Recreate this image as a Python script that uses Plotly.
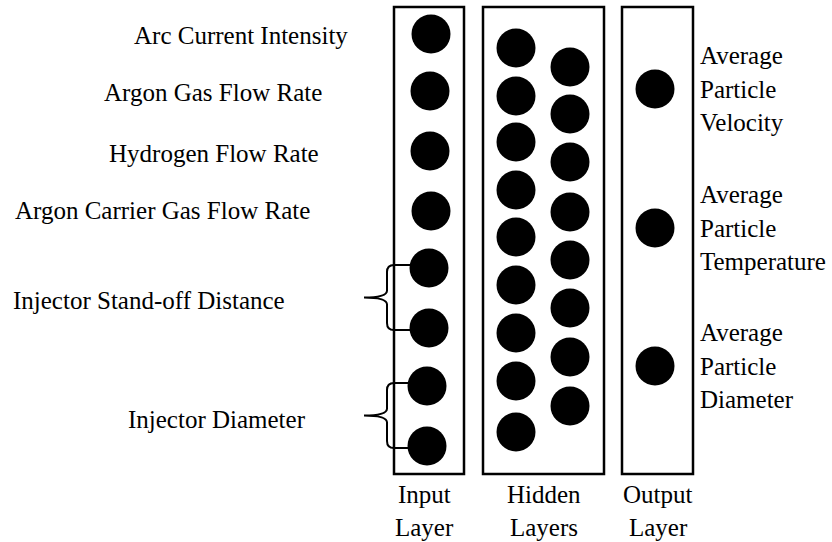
import plotly.graph_objects as go

# ---- data ----
input_labels = ["Arc Current Intensity", "Argon Gas Flow Rate", "Hydrogen Flow Rate",
                "Argon Carrier Gas Flow Rate"]
group_labels = ["Injector Stand-off Distance", "Injector Diameter"]
group_nodes = [(4, 5), (6, 7)]  # input node indices joined by each brace
output_labels = [["Average", "Particle", "Velocity"],
                 ["Average", "Particle", "Temperature"],
                 ["Average", "Particle", "Diameter"]]
layer_titles = [["Input", "Layer"], ["Hidden", "Layers"], ["Output", "Layer"]]

input_nodes_y = [34, 91, 151, 211, 268, 328, 386, 446]
hidden1_nodes_y = [48, 96, 142, 190, 237, 285, 333, 381, 432]
hidden2_nodes_y = [67, 114, 162, 212, 260, 308, 357, 406]
output_nodes_y = [89, 228, 366]

# ---- layout (pixel space of the reference) ----
W, H = 832, 542
FONT = "Liberation Serif, Times New Roman, Tinos, serif"
FS = 25
input_x = [431, 430, 430, 431, 429, 429, 427, 427]
h1_x, h2_x, out_x = 516, 570, 655
boxes = [(394, 464), (483, 604), (622, 693)]
box_top, box_bot = 7, 474
label_left_x = [133, 103, 108, 14]
label_y = [35, 92, 153, 210]
group_left_x = [12, 127]
group_y = [300, 419]
title_cx = [424, 544, 658]
title_y = [494, 527]
out_text_x = 699
out_line_gap = 33.5

fig = go.Figure()

node_kw = dict(mode="markers", marker=dict(size=39, color="black", line=dict(width=0)),
               hoverinfo="skip", showlegend=False)
fig.add_trace(go.Scatter(x=input_x, y=input_nodes_y, **node_kw))
fig.add_trace(go.Scatter(x=[h1_x] * len(hidden1_nodes_y), y=hidden1_nodes_y, **node_kw))
fig.add_trace(go.Scatter(x=[h2_x] * len(hidden2_nodes_y), y=hidden2_nodes_y, **node_kw))
fig.add_trace(go.Scatter(x=[out_x] * len(output_nodes_y), y=output_nodes_y, **node_kw))

shapes = []
for x0, x1 in boxes:
    shapes.append(dict(type="rect", xref="x", yref="y", x0=x0, x1=x1, y0=box_top, y1=box_bot,
                       line=dict(color="black", width=2.5), layer="below"))

# braces
for (a, b) in group_nodes:
    y1 = input_nodes_y[a] - 3
    y2 = input_nodes_y[b] + 2
    ym = (y1 + y2) / 2
    xe, xv, xt = 410, 387, 364
    p = (f"M {xe},{y1} L {xv+7},{y1} Q {xv},{y1} {xv},{y1+7} L {xv},{ym-7} "
         f"Q {xv},{ym} {xt},{ym} Q {xv},{ym} {xv},{ym+7} L {xv},{y2-7} "
         f"Q {xv},{y2} {xv+7},{y2} L {xe},{y2}")
    shapes.append(dict(type="path", xref="x", yref="y", path=p,
                       line=dict(color="black", width=2)))

ann = []
def txt(x, y, s, anchor="left"):
    ann.append(dict(x=x, y=y, xref="x", yref="y", text=s, showarrow=False,
                    xanchor=anchor, yanchor="middle", borderpad=0,
                    font=dict(family=FONT, size=FS, color="black")))

for s, x, y in zip(input_labels, label_left_x, label_y):
    txt(x, y, s)
for s, x, y in zip(group_labels, group_left_x, group_y):
    txt(x, y, s)
for lines, ny in zip(output_labels, output_nodes_y):
    for i, s in enumerate(lines):
        txt(out_text_x, ny + (i - 1) * out_line_gap, s)
for lines, cx in zip(layer_titles, title_cx):
    for s, ty in zip(lines, title_y):
        txt(cx, ty, s, anchor="center")

fig.update_layout(
    width=W, height=H, margin=dict(l=0, r=0, t=0, b=0),
    paper_bgcolor="white", plot_bgcolor="white",
    xaxis=dict(range=[0, W], visible=False, fixedrange=True),
    yaxis=dict(range=[H, 0], visible=False, fixedrange=True),
    shapes=shapes, annotations=ann, showlegend=False,
)
fig.write_html("out.html", config={"displayModeBar": False},
               post_script="document.body.style.margin='0';")
